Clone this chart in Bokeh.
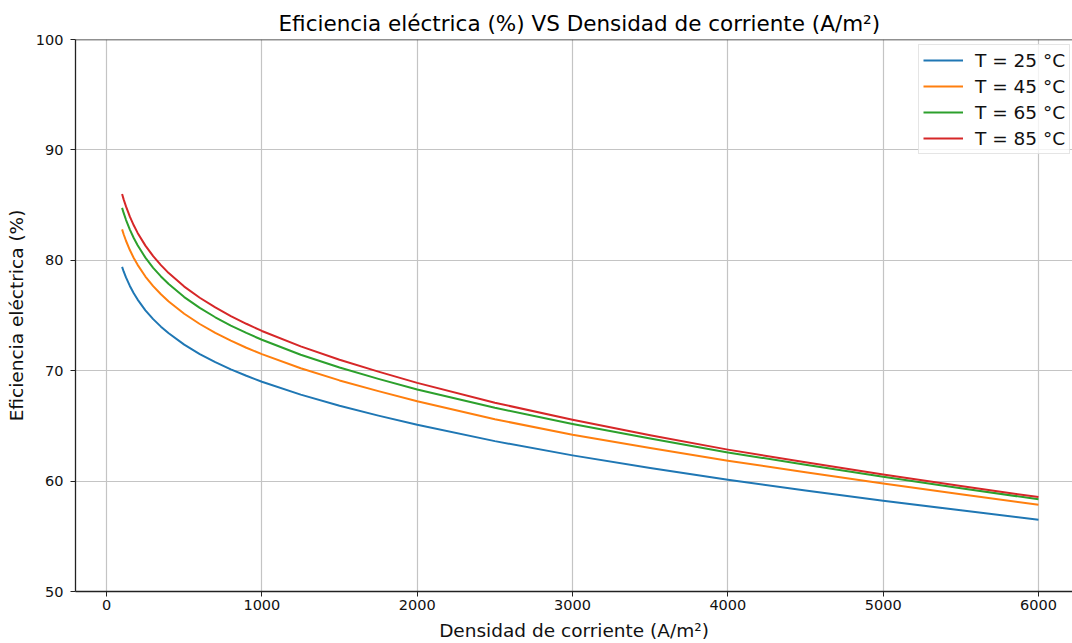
from bokeh.plotting import figure
from bokeh.models import Range1d, FixedTicker, Legend, LegendItem, Span
from bokeh.embed import file_html
from bokeh.resources import INLINE

# Current density (A/m^2)
densidad = [100, 110, 125, 150, 175, 200, 250, 300, 350, 400, 500, 600, 700, 800, 900,
            1000, 1250, 1500, 1750, 2000, 2500, 3000, 3500, 4000, 4500, 5000, 5500, 6000]

# Electrical efficiency (%) for each temperature
ef_25 = [79.40, 78.99, 78.45, 77.68, 77.02, 76.44, 75.47, 74.67, 73.99, 73.39, 72.36,
         71.51, 70.77, 70.12, 69.54, 69.00, 67.83, 66.82, 65.93, 65.10, 63.62, 62.33,
         61.18, 60.12, 59.15, 58.23, 57.35, 56.50]
ef_45 = [82.80, 82.36, 81.77, 80.93, 80.21, 79.59, 78.53, 77.66, 76.92, 76.27, 75.16,
         74.23, 73.43, 72.72, 72.08, 71.50, 70.22, 69.12, 68.15, 67.24, 65.60, 64.20,
         63.00, 61.85, 60.80, 59.78, 58.80, 57.85]
ef_65 = [84.75, 84.29, 83.67, 82.78, 82.02, 81.36, 80.24, 79.32, 78.54, 77.85, 76.67,
         75.69, 74.84, 74.09, 73.42, 72.80, 71.45, 70.29, 69.26, 68.30, 66.64, 65.17,
         63.85, 62.60, 61.48, 60.40, 59.36, 58.35]
ef_85 = [86.00, 85.52, 84.88, 83.95, 83.17, 82.48, 81.33, 80.37, 79.56, 78.84, 77.62,
         76.61, 75.73, 74.95, 74.25, 73.60, 72.20, 70.99, 69.92, 68.90, 67.10, 65.55,
         64.15, 62.85, 61.70, 60.60, 59.55, 58.55]

series = [("T = 25 °C", ef_25, "#1f77b4"),
          ("T = 45 °C", ef_45, "#ff7f0e"),
          ("T = 65 °C", ef_65, "#2ca02c"),
          ("T = 85 °C", ef_85, "#d62728")]

x_ticks = [0, 1000, 2000, 3000, 4000, 5000, 6000]
y_ticks = [50, 60, 70, 80, 90, 100]

FONT = "DejaVu Sans"

p = figure(width=1072, height=643,
           x_range=Range1d(-200, 6219), y_range=Range1d(50, 100),
           output_backend="svg", toolbar_location=None,
           min_border_left=75, min_border_right=0, min_border_top=39, min_border_bottom=49,
           background_fill_color="white", border_fill_color="white")
p.outline_line_color = None

p.title.text = "Eficiencia eléctrica (%) VS Densidad de corriente (A/m²)"
p.title.text_font = FONT
p.title.text_font_size = "21.5px"
p.title.text_font_style = "normal"
p.title.text_color = "#000000"
p.title.align = "left"
p.title.offset = 203
p.title.standoff = 7

for ax, ticks in ((p.xaxis[0], x_ticks), (p.yaxis[0], y_ticks)):
    ax.ticker = FixedTicker(ticks=ticks)
    ax.minor_tick_line_color = None
    ax.major_tick_out = 5
    ax.major_tick_in = 0
    ax.axis_line_color = "#222222"
    ax.axis_line_width = 1.3
    ax.major_tick_line_color = "#222222"
    ax.major_label_text_font = FONT
    ax.major_label_text_font_size = "14.5px"
    ax.major_label_text_color = "#111111"
    ax.axis_label_text_font = FONT
    ax.axis_label_text_font_size = "18.5px"
    ax.axis_label_text_font_style = "normal"
    ax.axis_label_text_color = "#111111"

p.xaxis.axis_label = "Densidad de corriente (A/m²)"
p.yaxis.axis_label = "Eficiencia eléctrica (%)"
p.xaxis.major_label_standoff = 3
p.xaxis.axis_label_standoff = 7
p.yaxis.major_label_standoff = 7
p.yaxis.axis_label_standoff = 6

p.xgrid.ticker = FixedTicker(ticks=x_ticks)
p.ygrid.ticker = FixedTicker(ticks=y_ticks)
p.grid.grid_line_color = "#c4c4c4"
p.grid.grid_line_width = 1.2

p.add_layout(Span(location=100, dimension="width", line_color="#222222", line_width=1.3))

items = []
for label, vals, color in series:
    r = p.line(densidad, vals, line_color=color, line_width=2, line_join="round")
    items.append(LegendItem(label=label, renderers=[r]))

legend = Legend(items=items, location=(843, 437))
legend.label_text_font = FONT
legend.label_text_font_size = "18.5px"
legend.label_text_color = "#111111"
legend.glyph_width = 40
legend.glyph_height = 22
legend.label_height = 22
legend.label_standoff = 12
legend.spacing = 4
legend.padding = 4
legend.margin = 0
legend.border_line_color = "#cccccc"
legend.border_line_width = 1
legend.background_fill_color = "white"
legend.background_fill_alpha = 0.8
p.add_layout(legend)

open("out.html", "w").write(file_html(p, INLINE))
